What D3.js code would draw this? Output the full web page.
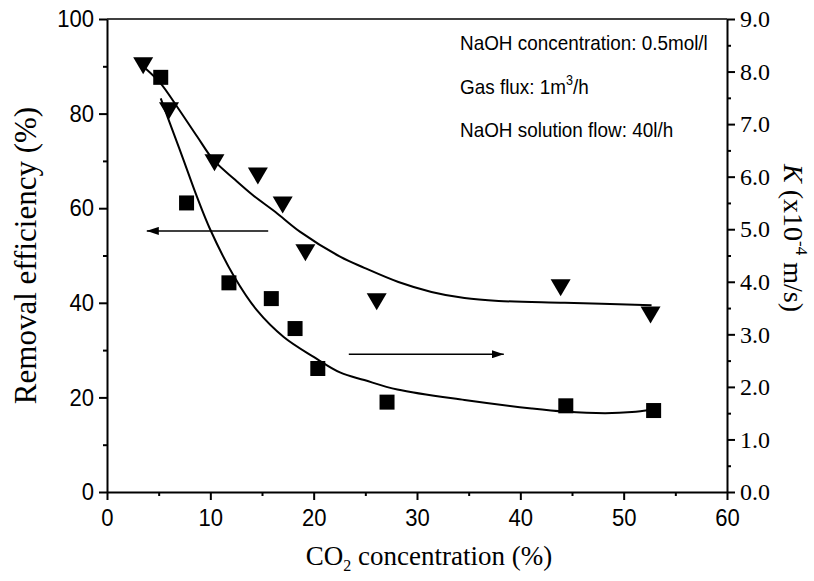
<!DOCTYPE html>
<html lang="en">
<head>
    <meta charset="UTF-8">
    <title>Removal efficiency and K vs CO2 concentration</title>
    <script src="https://cdnjs.cloudflare.com/ajax/libs/d3/7.8.5/d3.min.js"></script>
    <style>
        body { margin: 0; background: #fff; }
    </style>
</head>
<body>
    <div id="chart"></div>

    <script>
        // removal efficiency (left axis), triangles
        const co2Tri = [3.5, 6.0, 10.4, 14.6, 17.0, 19.2, 26.1, 43.9, 52.6];
        const removal = [90.1, 80.6, 69.6, 66.8, 60.7, 50.6, 40.2, 43.2, 37.4];

        // K x10^-4 m/s (right axis), squares
        const co2Sq = [5.2, 7.7, 11.8, 15.9, 18.2, 20.4, 27.1, 44.4, 52.9];
        const kValue = [7.89, 5.5, 3.98, 3.68, 3.11, 2.35, 1.71, 1.64, 1.55];

        // fitted curves
        const fitRemX = [3.7, 5.15, 6.8, 8.74, 10.3, 12.4, 14.1, 16.3, 18.7, 22.6, 24.9, 28.2, 31.4, 34.6, 37.9, 44.3, 52.7];
        const fitRemY = [89.6, 86.5, 81.4, 75.1, 70.2, 66.0, 62.8, 59.2, 55.0, 49.7, 47.4, 44.4, 42.3, 41.0, 40.4, 40.0, 39.5];
        const fitKX = [5.2, 6.1, 7.4, 8.7, 10.0, 12.3, 14.5, 17.1, 20.0, 22.6, 24.9, 28.1, 34.6, 41.1, 44.3, 48.2, 50.8, 52.7];
        const fitKY = [7.49, 7.01, 6.32, 5.62, 4.99, 4.10, 3.46, 2.95, 2.57, 2.27, 2.13, 1.95, 1.75, 1.59, 1.53, 1.50, 1.52, 1.57];

        // arrows: [x from, x to, value]
        const arrowLeft = [15.6, 3.85, 55.2];
        const arrowRight = [23.4, 38.4, 2.62];

        // tick values
        const xTicks = [0, 10, 20, 30, 40, 50, 60];
        const leftTicks = [0, 20, 40, 60, 80, 100];
        const rightTicks = [0, 1, 2, 3, 4, 5, 6, 7, 8, 9];

        const notes = ["NaOH concentration: 0.5mol/l", "Gas flux: 1m", "NaOH solution flow: 40l/h"];

        const width = 814;
        const height = 581;
        const margin = { top: 19, right: 87, bottom: 89, left: 107 };

        const svg = d3.select("#chart")
            .append("svg")
            .attr("width", width)
            .attr("height", height);

        const x = d3.scaleLinear()
            .domain([0, 60])
            .range([margin.left, width - margin.right]);

        const yL = d3.scaleLinear()
            .domain([0, 100])
            .range([height - margin.bottom, margin.top]);

        const yR = d3.scaleLinear()
            .domain([0, 9])
            .range([height - margin.bottom, margin.top]);

        const sans = "Arial, 'Liberation Sans', sans-serif";
        const serif = "'Times New Roman', 'Liberation Serif', serif";

        // minor ticks first, majors on top
        svg.append("g")
            .attr("transform", `translate(0,${yL(0)})`)
            .call(d3.axisBottom(x).tickValues(d3.range(5, 60, 10)).tickSize(4).tickFormat(""))
            .call(g => g.select(".domain").remove());
        svg.append("g")
            .attr("transform", `translate(${x(0)},0)`)
            .call(d3.axisLeft(yL).tickValues(d3.range(10, 100, 20)).tickSize(4).tickFormat(""))
            .call(g => g.select(".domain").remove());
        svg.append("g")
            .attr("transform", `translate(${x(60)},0)`)
            .call(d3.axisRight(yR).tickValues(d3.range(0.5, 9, 1)).tickSize(4).tickFormat(""))
            .call(g => g.select(".domain").remove());

        // the tick labels in the source look a little narrow, so squeeze them
        const xAxis = svg.append("g")
            .attr("transform", `translate(0,${yL(0)})`)
            .call(d3.axisBottom(x).tickValues(xTicks).tickSize(8).tickSizeOuter(0).tickPadding(9));
        xAxis.selectAll("text")
            .attr("font-family", sans).attr("font-size", 24).attr("fill", "#000")
            .attr("transform", "scale(0.92,1)");

        const leftAxis = svg.append("g")
            .attr("transform", `translate(${x(0)},0)`)
            .call(d3.axisLeft(yL).tickValues(leftTicks).tickSize(8).tickSizeOuter(0).tickPadding(6));
        leftAxis.selectAll("text")
            .attr("font-family", sans).attr("font-size", 24).attr("fill", "#000")
            .attr("transform", "scale(0.92,1)");

        const rightAxis = svg.append("g")
            .attr("transform", `translate(${x(60)},0)`)
            .call(d3.axisRight(yR).tickValues(rightTicks).tickFormat(d3.format(".1f")).tickSize(8).tickSizeOuter(0).tickPadding(5));
        rightAxis.selectAll("text").attr("font-family", serif).attr("font-size", 24).attr("fill", "#000");

        svg.selectAll(".tick line").attr("stroke", "#000").attr("stroke-width", 2);
        svg.selectAll(".domain").attr("stroke", "#000").attr("stroke-width", 2);

        // top frame line
        svg.append("line")
            .attr("x1", x(0)).attr("x2", x(60))
            .attr("y1", yL(100)).attr("y2", yL(100))
            .attr("stroke", "#000").attr("stroke-width", 1.5);

        // fitted curves
        const lineL = d3.line().x(d => x(d[0])).y(d => yL(d[1])).curve(d3.curveCatmullRom);
        const lineR = d3.line().x(d => x(d[0])).y(d => yR(d[1])).curve(d3.curveCatmullRom);

        svg.append("path")
            .attr("d", lineL(d3.zip(fitRemX, fitRemY)))
            .attr("fill", "none").attr("stroke", "#000").attr("stroke-width", 2);
        svg.append("path")
            .attr("d", lineR(d3.zip(fitKX, fitKY)))
            .attr("fill", "none").attr("stroke", "#000").attr("stroke-width", 2);

        // markers
        svg.selectAll(".tri")
            .data(d3.zip(co2Tri, removal))
            .join("path")
            .attr("class", "tri")
            .attr("d", "M-10,-8.5L10,-8.5L0,8.5Z")
            .attr("transform", d => `translate(${x(d[0])},${yL(d[1])})`)
            .attr("fill", "#000");

        svg.selectAll(".sq")
            .data(d3.zip(co2Sq, kValue))
            .join("rect")
            .attr("class", "sq")
            .attr("x", d => x(d[0]) - 7.5)
            .attr("y", d => yR(d[1]) - 7.5)
            .attr("width", 15)
            .attr("height", 15)
            .attr("fill", "#000");

        // arrows
        svg.append("defs").append("marker")
            .attr("id", "head")
            .attr("viewBox", "0 0 12 8")
            .attr("refX", 12).attr("refY", 4)
            .attr("markerWidth", 12).attr("markerHeight", 8)
            .attr("markerUnits", "userSpaceOnUse")
            .attr("orient", "auto")
            .append("path")
            .attr("d", "M0,0L12,4L0,8Z")
            .attr("fill", "#000");

        svg.append("line")
            .attr("x1", x(arrowLeft[0])).attr("x2", x(arrowLeft[1]))
            .attr("y1", yL(arrowLeft[2])).attr("y2", yL(arrowLeft[2]))
            .attr("stroke", "#000").attr("stroke-width", 1.5)
            .attr("marker-end", "url(#head)");
        svg.append("line")
            .attr("x1", x(arrowRight[0])).attr("x2", x(arrowRight[1]))
            .attr("y1", yR(arrowRight[2])).attr("y2", yR(arrowRight[2]))
            .attr("stroke", "#000").attr("stroke-width", 1.5)
            .attr("marker-end", "url(#head)");

        // notes
        const noteG = svg.append("g")
            .attr("font-family", sans)
            .attr("font-size", 21)
            .attr("fill", "#000");
        noteG.append("text").attr("transform", "translate(460,50) scale(0.9,1)").text(notes[0]);
        const n2 = noteG.append("text").attr("transform", "translate(460,94) scale(0.9,1)").text(notes[1]);
        n2.append("tspan").attr("font-size", 14).attr("dy", -9).text("3");
        n2.append("tspan").attr("dy", 9).text("/h");
        noteG.append("text").attr("transform", "translate(460,137) scale(0.9,1)").text(notes[2]);

        // axis titles
        svg.append("text")
            .attr("transform", `translate(36,${(yL(0) + yL(100)) / 2}) rotate(-90)`)
            .attr("text-anchor", "middle")
            .attr("font-family", serif)
            .attr("font-size", 31)
            .text("Removal efficiency (%)");

        const xt = svg.append("text")
            .attr("x", x(30) + 12)
            .attr("y", 565)
            .attr("text-anchor", "middle")
            .attr("font-family", serif)
            .attr("font-size", 27)
            .text("CO");
        xt.append("tspan").attr("font-size", 16).attr("dy", 6).text("2");
        xt.append("tspan").attr("dy", -6).text(" concentration (%)");

        const rt = svg.append("text")
            .attr("transform", `translate(784,238) rotate(90)`)
            .attr("text-anchor", "middle")
            .attr("font-family", serif)
            .attr("font-size", 28);
        rt.append("tspan").attr("font-style", "italic").text("K");
        rt.append("tspan").text(" (x10");
        rt.append("tspan").attr("font-size", 17).attr("dy", -12).text("-4");
        rt.append("tspan").attr("dy", 12).text(" m/s)");
    </script>
</body>
</html>
